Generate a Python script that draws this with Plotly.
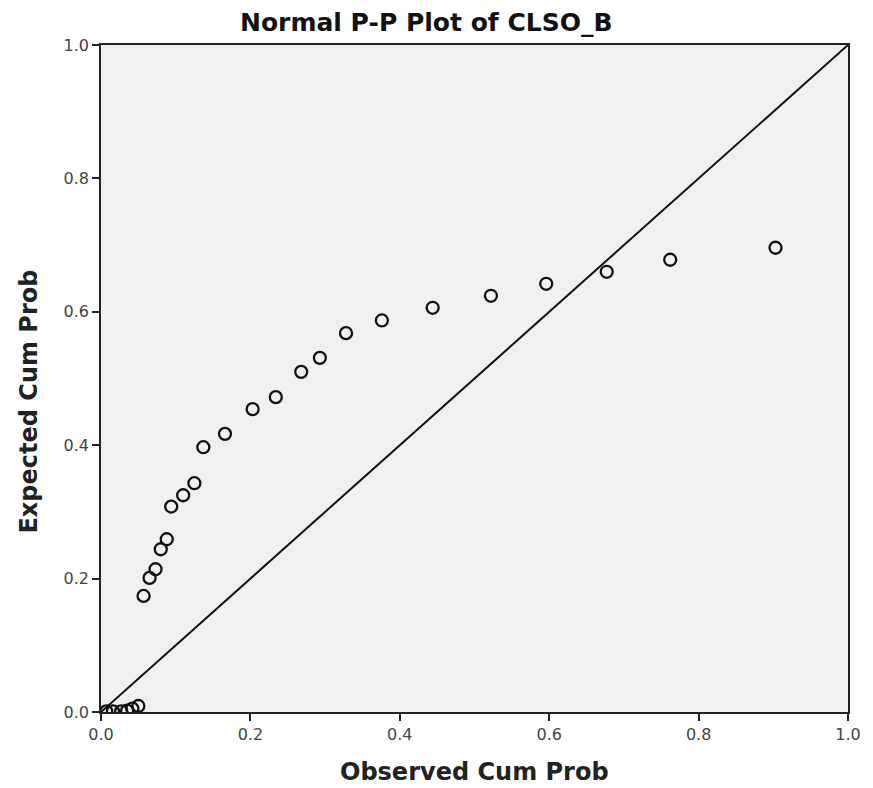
import plotly.graph_objects as go

observed = [0.007, 0.016, 0.027, 0.035, 0.042, 0.050,
            0.057, 0.065, 0.073, 0.080, 0.088, 0.094, 0.110, 0.125, 0.137,
            0.166, 0.203, 0.234, 0.268, 0.293, 0.328, 0.376, 0.444, 0.522,
            0.596, 0.677, 0.762, 0.903]
expected = [0.001, 0.001, 0.001, 0.002, 0.005, 0.009,
            0.174, 0.201, 0.214, 0.244, 0.259, 0.308, 0.325, 0.343, 0.397,
            0.417, 0.454, 0.472, 0.510, 0.531, 0.568, 0.587, 0.606, 0.624,
            0.642, 0.660, 0.678, 0.696]
ref_line = [0.0, 1.0]
tick_vals = [0.0, 0.2, 0.4, 0.6, 0.8, 1.0]
tick_text = ["0.0", "0.2", "0.4", "0.6", "0.8", "1.0"]

FONT = "DejaVu Sans, Open Sans, sans-serif"

fig = go.Figure()
fig.add_trace(go.Scatter(x=ref_line, y=ref_line, mode="lines",
                         line=dict(color="#111111", width=2),
                         hoverinfo="skip", showlegend=False))
fig.add_trace(go.Scatter(x=observed, y=expected, mode="markers",
                         marker=dict(symbol="circle-open", size=12,
                                     color="#111111", line=dict(width=2.3)),
                         showlegend=False))

axis_common = dict(range=[0, 1], tickvals=tick_vals, ticktext=tick_text,
                   ticks="outside", ticklen=7, tickwidth=1.5, tickcolor="#222",
                   showgrid=False, zeroline=False, showline=True,
                   linecolor="#222", linewidth=1.5, mirror=True,
                   tickfont=dict(family=FONT, size=16, color="#444"))

# plot area: ~753 x 667 px
fig.update_layout(
    width=865, height=780,
    margin=dict(l=93, r=15, t=37, b=76),
    paper_bgcolor="white", plot_bgcolor="#f0f0f0",
    xaxis=dict(**axis_common),
    yaxis=dict(**axis_common),
    annotations=[
        dict(text="<b>Normal P-P Plot of CLSO_B</b>", xref="paper", yref="paper",
             x=(428 - 100) / 753, y=(712 - 23) / 667, showarrow=False,
             xanchor="center", yanchor="middle",
             font=dict(family=FONT, size=25, color="#111")),
        dict(text="<b>Observed Cum Prob</b>", xref="paper", yref="paper",
             x=0.5, y=(712 - 772) / 667, showarrow=False,
             xanchor="center", yanchor="middle",
             font=dict(family=FONT, size=24, color="#222")),
        dict(text="<b>Expected Cum Prob</b>", xref="paper", yref="paper",
             x=(27 - 100) / 753, y=(712 - 402) / 667, showarrow=False,
             xanchor="center", yanchor="middle", textangle=-90,
             font=dict(family=FONT, size=24, color="#222")),
    ],
)

fig.write_html("out.html")
